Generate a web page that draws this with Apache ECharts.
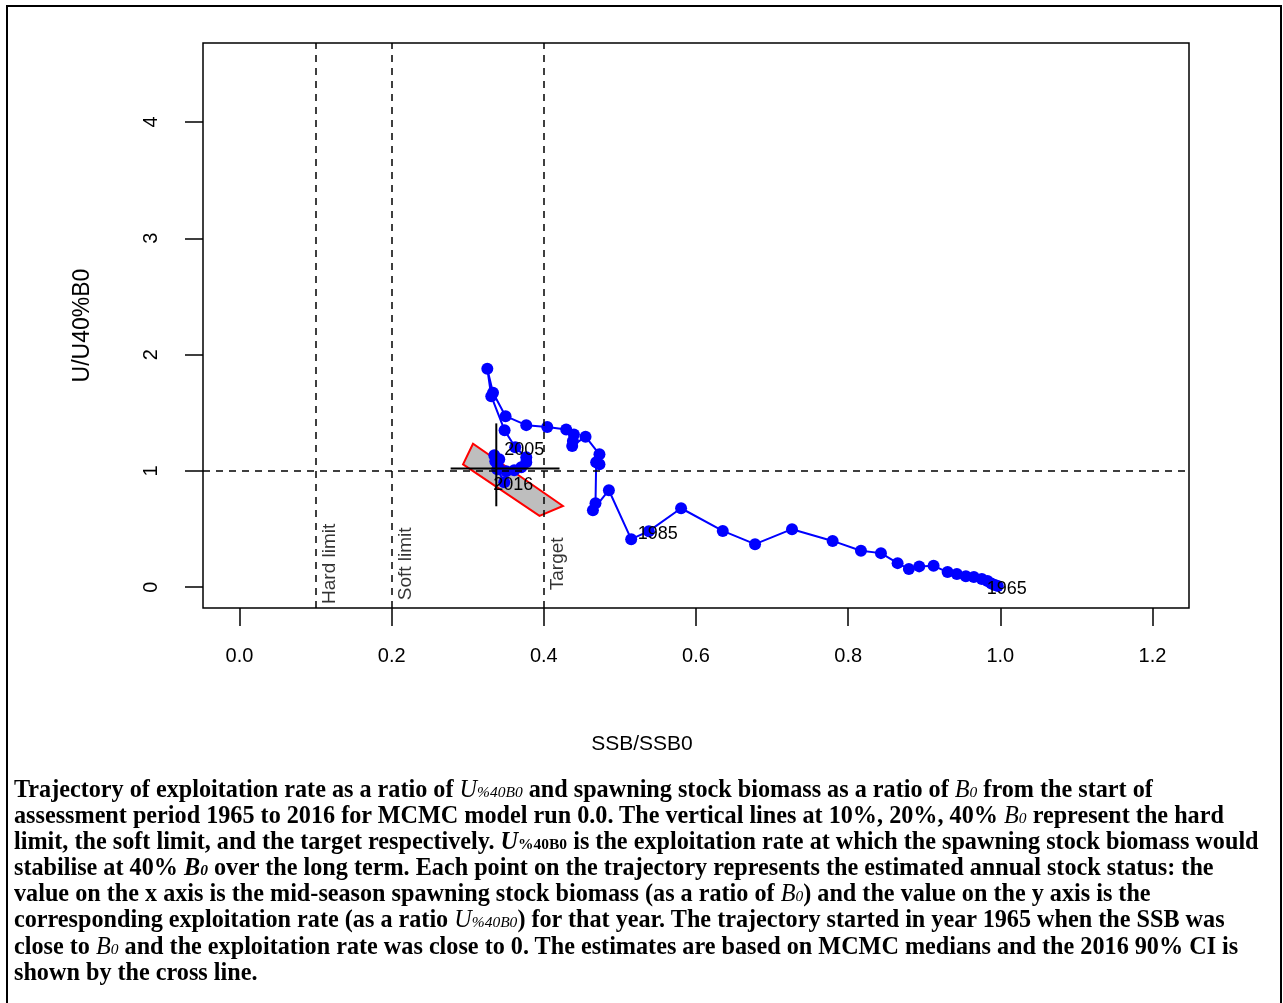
<!DOCTYPE html>
<html><head><meta charset="utf-8">
<script src="https://cdn.jsdelivr.net/npm/echarts@6/dist/echarts.min.js"></script>
<style>
html,body{margin:0;padding:0;background:#fff;width:1283px;height:1003px;overflow:hidden}
#chart{position:absolute;left:0;top:0;width:1283px;height:1003px}
#frame{position:absolute;left:6px;top:5px;width:1276px;height:1030px;border:2px solid #000;box-sizing:border-box;pointer-events:none}
#caption{position:absolute;left:14px;top:776px;font-family:'Liberation Serif','Times New Roman',serif;font-weight:bold;font-size:24.2px;line-height:26.1px;color:#000;white-space:nowrap}
.it{font-style:italic;font-weight:normal}
.bi{font-style:italic;font-weight:bold}
.sm{font-size:15.5px;line-height:1}
</style></head>
<body>
<div id="chart"></div>
<div id="frame"></div>
<div id="caption">
Trajectory of exploitation rate as a ratio of <span class="it">U<span class="sm">%40B0</span></span> and spawning stock biomass as a ratio of <span class="it">B<span class="sm">0</span></span> from the start of<br>
assessment period 1965 to 2016 for MCMC model run 0.0. The vertical lines at 10%, 20%, 40% <span class="it">B<span class="sm">0</span></span> represent the hard<br>
limit, the soft limit, and the target respectively. <span class="bi">U</span><span class="sm">%40B0</span> is the exploitation rate at which the spawning stock biomass would<br>
stabilise at 40% <span class="bi">B<span class="sm">0</span></span> over the long term. Each point on the trajectory represents the estimated annual stock status: the<br>
value on the x axis is the mid-season spawning stock biomass (as a ratio of <span class="it">B<span class="sm">0</span></span>) and the value on the y axis is the<br>
corresponding exploitation rate (as a ratio <span class="it">U<span class="sm">%40B0</span></span>) for that year. The trajectory started in year 1965 when the SSB was<br>
close to <span class="it">B<span class="sm">0</span></span> and the exploitation rate was close to 0. The estimates are based on MCMC medians and the 2016 90% CI is<br>
shown by the cross line.
</div>
<script>
const years = [1965,1966,1967,1968,1969,1970,1971,1972,1973,1974,1975,1976,1977,1978,1979,1980,1981,1982,1983,1984,1985,1986,1987,1988,1989,1990,1991,1992,1993,1994,1995,1996,1997,1998,1999,2000,2001,2002,2003,2004,2005,2006,2007,2008,2009,2010,2011,2012,2013,2014,2015,2016];
const ssb = [0.9967,0.9928,0.9882,0.9832,0.9757,0.9652,0.9547,0.9429,0.9307,0.9123,0.8934,0.8798,0.8650,0.8431,0.8168,0.7796,0.7262,0.6776,0.6352,0.5804,0.5380,0.5148,0.4855,0.4645,0.4679,0.4688,0.4731,0.4731,0.4548,0.4373,0.4382,0.4395,0.4294,0.4045,0.3769,0.3497,0.3332,0.3257,0.3309,0.3484,0.3624,0.3769,0.3769,0.3703,0.3611,0.3506,0.3401,0.3349,0.3362,0.3414,0.3388,0.3480];
const uRatio = [0.009,0.017,0.030,0.052,0.069,0.086,0.094,0.112,0.129,0.183,0.178,0.155,0.206,0.292,0.312,0.397,0.498,0.369,0.483,0.678,0.481,0.412,0.833,0.661,0.721,1.073,1.056,1.142,1.294,1.213,1.256,1.313,1.356,1.376,1.393,1.470,1.671,1.877,1.642,1.348,1.202,1.116,1.073,1.030,1.004,0.996,1.030,1.133,1.082,1.099,1.013,0.901];
const labelYears = [1965,1985,2005,2016];
const refX = [0.1,0.2,0.4];
const refXLabels = ['Hard limit','Soft limit','Target'];
const refY = [1];
const refLabelY = 0.2;
const ciPolyX = [0.3069,0.2938,0.3943,0.4251];
const ciPolyY = [1.233,1.056,0.612,0.698];
const crossCentre = [0.3375,1.021];
const crossXRange = [0.2775,0.4206];
const crossYRange = [0.695,1.408];
const xTicks = [0,0.2,0.4,0.6,0.8,1.0,1.2];
const yTicks = [0,1,2,3,4];
const xName = 'SSB/SSB0';
const yName = 'U/U40%B0';

const FONT = "'Liberation Sans', Arial, sans-serif";
const chart = echarts.init(document.getElementById('chart'));

const trajData = ssb.map((x,i)=>{
  const item = {value:[x,uRatio[i]]};
  if (labelYears.indexOf(years[i])>=0) item.label = {show:true};
  return item;
});

chart.setOption({
  animation:false,
  backgroundColor:'#fff',
  grid:{left:203,right:94,top:43,bottom:395,show:true,borderColor:'#000',borderWidth:1.5,backgroundColor:'transparent'},
  xAxis:{type:'value',min:-0.048,max:1.248,
    name:xName,nameLocation:'middle',nameGap:126,
    nameTextStyle:{fontSize:21,color:'#000',fontFamily:FONT,padding:[0,108,0,0]},
    axisLine:{show:false,onZero:false},splitLine:{show:false},
    axisTick:{show:true,length:18,customValues:xTicks,lineStyle:{color:'#000',width:1.5}},
    axisLabel:{customValues:xTicks,formatter:v=>v.toFixed(1),fontSize:20,color:'#000',margin:38,fontFamily:FONT}},
  yAxis:{type:'value',min:-0.18,max:4.68,
    name:yName,nameLocation:'middle',nameGap:109,nameRotate:90,nameTextStyle:{fontSize:23,color:'#000',fontFamily:FONT},
    axisLine:{show:false,onZero:false},splitLine:{show:false},
    axisTick:{show:true,length:18,customValues:yTicks,lineStyle:{color:'#000',width:1.5}},
    axisLabel:{customValues:yTicks,formatter:v=>String(v),rotate:90,fontSize:20,color:'#000',margin:42,fontFamily:FONT}},
  series:[
    {type:'custom',z:1,silent:true,data:[[ciPolyX[0],ciPolyY[0]]],
     renderItem:(params,api)=>({type:'polygon',shape:{points:ciPolyX.map((x,i)=>api.coord([x,ciPolyY[i]]))},
       style:{fill:'#bebebe',stroke:'#ff0000',lineWidth:2}})},
    {type:'line',z:3,silent:true,symbol:'circle',symbolSize:12,
     itemStyle:{color:'#0000ff'},lineStyle:{color:'#0000ff',width:2},
     label:{show:false,position:'inside',offset:[9,3],color:'#000',fontSize:18,fontFamily:FONT,
       formatter:p=>String(years[p.dataIndex])},
     data:trajData},
    {type:'line',z:4,silent:true,symbol:'none',lineStyle:{color:'#000',width:2},
     data:[[crossXRange[0],crossCentre[1]],[crossXRange[1],crossCentre[1]]]},
    {type:'line',z:4,silent:true,symbol:'none',lineStyle:{color:'#000',width:2},
     data:[[crossCentre[0],crossYRange[0]],[crossCentre[0],crossYRange[1]]]},
    {type:'scatter',z:5,silent:true,symbolSize:0,
     label:{show:true,position:'inside',rotate:90,offset:[0,14],color:'#000',fontSize:19,fontFamily:FONT,
       formatter:p=>refXLabels[p.dataIndex]},
     data:refX.map(v=>[v,refLabelY]),
     markLine:{silent:true,symbol:'none',label:{show:false},
       lineStyle:{color:'#000',width:1.5,type:[7,6]},
       data:refX.map(v=>({xAxis:v})).concat(refY.map(v=>({yAxis:v})))}}
  ]
});
</script>
</body></html>
